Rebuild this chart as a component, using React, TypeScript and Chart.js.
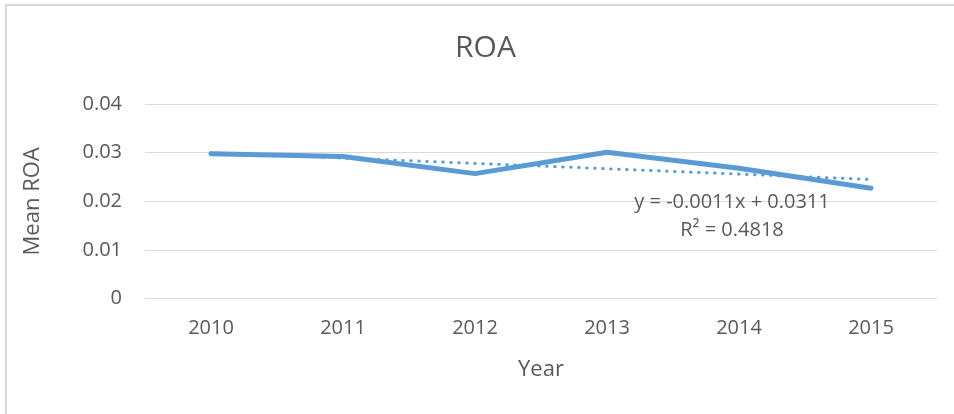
import React, { useEffect, useRef } from "react";
import { Chart, registerables } from "chart.js";

Chart.register(...registerables);

const years = ["2010", "2011", "2012", "2013", "2014", "2015"];
const meanROA = [0.0298, 0.0292, 0.0257, 0.0301, 0.0268, 0.0227];
const trendROA = [0.03, 0.0289, 0.0278, 0.0267, 0.0256, 0.0245];
const equationLines = ["y = -0.0011x + 0.0311", "R² = 0.4818"];

const TEXT = "#595959";
const FONT = "'Open Sans', 'Liberation Sans', sans-serif";

const equationPlugin = {
  id: "equationLabel",
  afterDatasetsDraw(chart: any) {
    const { ctx, scales } = chart;
    const x = scales.x.getPixelForValue(4) - 7;
    const y0 = scales.y.getPixelForValue(0.0198);
    ctx.save();
    ctx.fillStyle = TEXT;
    ctx.font = `20px ${FONT}`;
    ctx.textAlign = "center";
    ctx.textBaseline = "middle";
    equationLines.forEach((t, i) => ctx.fillText(t, x, y0 + i * 27.5));
    ctx.restore();
  },
};

export default function App() {
  const ref = useRef<HTMLCanvasElement | null>(null);
  useEffect(() => {
    if (!ref.current) return;
    const chart = new Chart(ref.current, {
      type: "line",
      data: {
        labels: years,
        datasets: [
          {
            label: "Mean ROA",
            data: meanROA,
            borderColor: "#5b9bd5",
            backgroundColor: "#5b9bd5",
            borderWidth: 5,
            borderCapStyle: "round",
            borderJoinStyle: "round",
            pointRadius: 0,
            tension: 0,
            order: 2,
          },
          {
            label: "Linear (Mean ROA)",
            data: trendROA,
            borderColor: "#5b9bd5",
            borderWidth: 3,
            borderDash: [0.5, 7.5],
            borderCapStyle: "round",
            pointRadius: 0,
            tension: 0,
            order: 1,
          },
        ],
      },
      options: {
        animation: false,
        responsive: false,
        maintainAspectRatio: false,
        layout: { padding: { left: 17, right: 0, top: 0, bottom: 0 } },
        plugins: {
          legend: { display: false },
          tooltip: { enabled: false },
          title: {
            display: true,
            text: "ROA",
            color: TEXT,
            font: { family: FONT, size: 30, weight: "normal", lineHeight: 1.2 },
            padding: { top: 30, bottom: 38 },
          },
        },
        scales: {
          x: {
            type: "category",
            offset: true,
            grid: { display: false, drawTicks: false },
            border: { display: false },
            ticks: {
              color: TEXT,
              font: { family: FONT, size: 20, lineHeight: 1.2 },
              padding: 18,
              maxRotation: 0,
            },
            title: {
              display: true,
              text: "Year",
              color: TEXT,
              font: { family: FONT, size: 22, lineHeight: 1.2 },
              padding: { top: 0, bottom: 31 },
            },
            afterFit(scale: any) {
              scale.height = 115.3;
            },
          },
          y: {
            min: 0,
            max: 0.04,
            grid: { color: "#d9d9d9", lineWidth: 1, drawTicks: false },
            border: { display: false },
            ticks: {
              stepSize: 0.01,
              color: TEXT,
              font: { family: FONT, size: 20, lineHeight: 1.2 },
              padding: 23,
              callback: (v: any) => (Number(v) === 0 ? "0" : Number(v).toFixed(2)),
            },
            title: {
              display: true,
              text: "Mean ROA",
              color: TEXT,
              font: { family: FONT, size: 22, lineHeight: 1.2 },
              padding: { top: 3, bottom: 0 },
            },
            afterFit(scale: any) {
              scale.width = 128;
            },
          },
          yRight: {
            position: "right",
            min: 0,
            max: 0.04,
            display: true,
            grid: { display: false, drawTicks: false },
            border: { display: false },
            ticks: { display: false },
            afterFit(scale: any) {
              scale.width = 17;
            },
          },
        },
      },
      plugins: [equationPlugin],
    });
    return () => chart.destroy();
  }, []);

  return (
    <div
      style={{
        position: "absolute",
        left: 0,
        top: 0,
        width: 954,
        height: 414,
        overflow: "hidden",
        background: "#ffffff",
      }}
    >
      <div
        style={{
          position: "absolute",
          left: 5,
          top: 4,
          width: 1100,
          height: 600,
          borderLeft: "2px solid #d9d9d9",
          borderTop: "2px solid #d9d9d9",
        }}
      />
      <canvas
        ref={ref}
        width={954}
        height={414}
        style={{ position: "absolute", left: 0, top: 0, width: 954, height: 414 }}
      />
    </div>
  );
}
